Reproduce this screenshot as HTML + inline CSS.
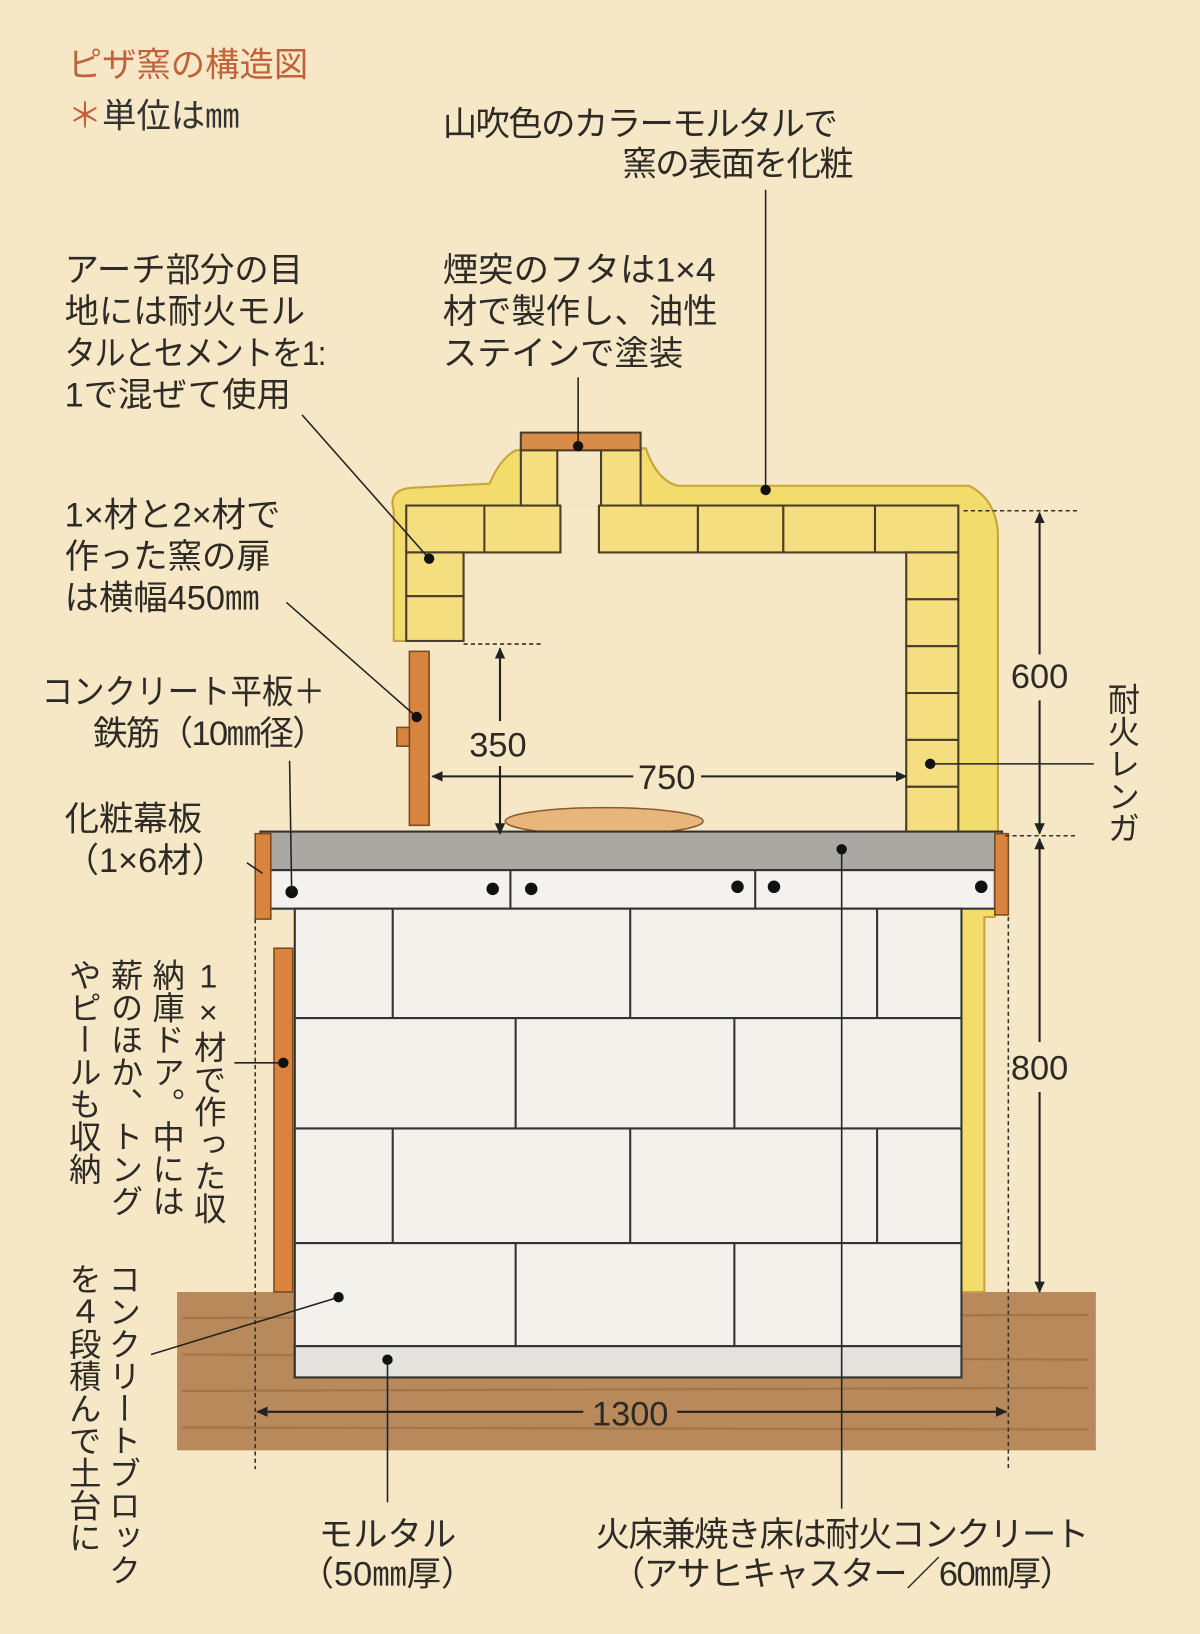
<!DOCTYPE html>
<html><head><meta charset="utf-8"><style>
html,body{margin:0;padding:0;background:#f6e7c6;}
svg{display:block}
text{font-family:"Liberation Sans","Noto Sans CJK JP",sans-serif;fill:#2e2a26;font-size:33px}
.v{writing-mode:vertical-rl;text-orientation:upright;font-size:31px}
.c{letter-spacing:-1.5px}
</style></head><body>
<svg width="1200" height="1634" viewBox="0 0 1152 1568" xmlns="http://www.w3.org/2000/svg">
<defs>
<marker id="ar" markerWidth="12" markerHeight="12" refX="10" refY="5" orient="auto-start-reverse" markerUnits="userSpaceOnUse"><path d="M0,0 L11,5 L0,10 z" fill="#222"/></marker>
</defs>
<rect width="1152" height="1568" fill="#f6e7c6"/>
<!-- ground -->
<rect x="170" y="1240" width="882" height="152" fill="#b8895a"/>
<g stroke="#8e6234" stroke-width="2" opacity="0.5">
<line x1="175" y1="1265" x2="1045" y2="1262"/><line x1="175" y1="1300" x2="1045" y2="1305"/><line x1="175" y1="1335" x2="1045" y2="1332"/><line x1="175" y1="1370" x2="1045" y2="1372"/>
</g>
<!-- mortar yellow outer -->
<path d="M378,490 Q372,470 395,468 L470,464 Q480,440 495,432 L620,430 Q630,460 650,466 L930,466 Q955,478 958,510 L958,800 L955,880 L945,880 L945,1240 L922,1240 L922,872 L870,800 L870,530 L575,530 L575,485 L538,485 L538,530 L445,530 L445,615 L378,615 Z" fill="#f2dc6c" stroke="#c9a43a" stroke-width="2"/>
<rect x="536" y="432" width="40" height="54" fill="#f6e7c6"/>
<!-- bricks -->
<g fill="#f5de80" stroke="#4a3d2a" stroke-width="2">
<rect x="390" y="485" width="148" height="45"/>
<line x1="465" y1="485" x2="465" y2="530"/>
<rect x="390" y="530" width="55" height="42"/><rect x="390" y="572" width="55" height="43"/>
<rect x="500" y="430" width="35" height="55"/><rect x="577" y="430" width="38" height="55"/>
<rect x="500" y="415" width="115" height="17" fill="#d98b48"/>
<rect x="575" y="485" width="95" height="45"/><rect x="670" y="485" width="82" height="45"/><rect x="752" y="485" width="88" height="45"/><rect x="840" y="485" width="80" height="45"/>
<rect x="870" y="530" width="50" height="45"/><rect x="870" y="575" width="50" height="45"/><rect x="870" y="620" width="50" height="45"/><rect x="870" y="665" width="50" height="45"/><rect x="870" y="710" width="50" height="45"/><rect x="870" y="755" width="50" height="45"/>
</g>
<!-- hearth -->
<ellipse cx="580" cy="788" rx="95" ry="13" fill="#e8b57a" stroke="#8a5a30" stroke-width="1.5"/>
<!-- slab -->
<rect x="250" y="798" width="712" height="37" fill="#a9a8a2" stroke="#333" stroke-width="2"/>
<rect x="258" y="835" width="697" height="37" fill="#f3f2ee" stroke="#333" stroke-width="2"/>
<line x1="490" y1="835" x2="490" y2="872" stroke="#333" stroke-width="2"/><line x1="725" y1="835" x2="725" y2="872" stroke="#333" stroke-width="2"/>
<g fill="#111"><circle cx="280" cy="856" r="6"/><circle cx="473" cy="853" r="6"/><circle cx="510" cy="853" r="6"/><circle cx="708" cy="851" r="6"/><circle cx="743" cy="851" r="6"/><circle cx="942" cy="851" r="6"/></g>
<rect x="245" y="800" width="15" height="82" fill="#d8843e" stroke="#7a4a20" stroke-width="1.5"/>
<rect x="955" y="800" width="13" height="78" fill="#d8843e" stroke="#7a4a20" stroke-width="1.5"/>
<!-- blocks -->
<rect x="283" y="872" width="640" height="450" fill="#f2f1ec" stroke="#333" stroke-width="2"/>
<g stroke="#333" stroke-width="2" fill="none">
<line x1="283" y1="977" x2="923" y2="977"/><line x1="283" y1="1083" x2="923" y2="1083"/><line x1="283" y1="1193" x2="923" y2="1193"/><line x1="283" y1="1292" x2="923" y2="1292"/>
<line x1="377" y1="872" x2="377" y2="977"/><line x1="605" y1="872" x2="605" y2="977"/><line x1="842" y1="872" x2="842" y2="977"/>
<line x1="495" y1="977" x2="495" y2="1083"/><line x1="705" y1="977" x2="705" y2="1083"/>
<line x1="377" y1="1083" x2="377" y2="1193"/><line x1="605" y1="1083" x2="605" y2="1193"/><line x1="842" y1="1083" x2="842" y2="1193"/>
<line x1="495" y1="1193" x2="495" y2="1292"/><line x1="705" y1="1193" x2="705" y2="1292"/>
</g>
<rect x="283" y="1292" width="640" height="30" fill="#e4e3de" stroke="#333" stroke-width="2"/>
<!-- doors -->
<rect x="393" y="625" width="19" height="167" fill="#d8843e" stroke="#7a4a20" stroke-width="1.5"/>
<rect x="381" y="698" width="12" height="18" fill="#d8843e" stroke="#7a4a20" stroke-width="1.5"/>
<rect x="263" y="910" width="18" height="330" fill="#d8843e" stroke="#7a4a20" stroke-width="1.5"/>
<!-- dims -->
<g stroke="#333" stroke-width="1.5" stroke-dasharray="4,3" fill="none">
<line x1="925" y1="490" x2="1035" y2="490"/><line x1="965" y1="802" x2="1035" y2="802"/><line x1="445" y1="618" x2="520" y2="618"/>
<line x1="245" y1="882" x2="245" y2="1410"/><line x1="968" y1="880" x2="968" y2="1410"/>
</g>
<g stroke="#222" stroke-width="2" fill="none">
<line x1="998" y1="492" x2="998" y2="628" marker-start="url(#ar)"/><line x1="998" y1="672" x2="998" y2="800" marker-end="url(#ar)"/>
<line x1="998" y1="805" x2="998" y2="1000" marker-start="url(#ar)"/><line x1="998" y1="1048" x2="998" y2="1240" marker-end="url(#ar)"/>
<line x1="480" y1="622" x2="480" y2="692" marker-start="url(#ar)"/><line x1="480" y1="735" x2="480" y2="800" marker-end="url(#ar)"/>
<line x1="415" y1="745" x2="608" y2="745" marker-start="url(#ar)"/><line x1="673" y1="745" x2="870" y2="745" marker-end="url(#ar)"/>
<line x1="247" y1="1355" x2="560" y2="1355" marker-start="url(#ar)"/><line x1="650" y1="1355" x2="966" y2="1355" marker-end="url(#ar)"/>
</g>
<!-- leaders -->
<g stroke="#222" stroke-width="1.5">
<line x1="290" y1="398" x2="412" y2="536"/><line x1="275" y1="578" x2="400" y2="688"/><line x1="278" y1="730" x2="280" y2="855"/><line x1="237" y1="828" x2="252" y2="838"/><line x1="225" y1="1020" x2="272" y2="1020"/><line x1="145" y1="1300" x2="325" y2="1245"/><line x1="372" y1="1305" x2="372" y2="1442"/><line x1="808" y1="815" x2="808" y2="1448"/><line x1="555" y1="362" x2="555" y2="428"/><line x1="735" y1="182" x2="735" y2="470"/><line x1="893" y1="733" x2="1050" y2="733"/>
</g>
<g fill="#111"><circle cx="412" cy="536" r="5"/><circle cx="400" cy="688" r="5"/><circle cx="272" cy="1020" r="5"/><circle cx="325" cy="1245" r="5"/><circle cx="372" cy="1305" r="5"/><circle cx="808" cy="815" r="5"/><circle cx="555" cy="428" r="5"/><circle cx="735" cy="470" r="5"/><circle cx="893" cy="733" r="5"/></g>
<!-- texts -->
<text x="65" y="73" style="fill:#c0623a">ピザ窯の構造図</text>
<text x="65" y="122" style="fill:#333"><tspan style="fill:#c0623a">＊</tspan>単位は㎜</text>
<text x="425" y="130" class="c">山吹色のカラーモルタルで</text>
<text x="818" y="168" text-anchor="end" class="c">窯の表面を化粧</text>
<text x="62" y="270">アーチ部分の目</text><text x="62" y="310">地には耐火モル</text><text x="62" y="350" class="c" textLength="250" lengthAdjust="spacingAndGlyphs">タルとセメントを1:</text><text x="62" y="390">1で混ぜて使用</text>
<text x="425" y="270" textLength="262" lengthAdjust="spacingAndGlyphs">煙突のフタは1×4</text><text x="425" y="310">材で製作し、油性</text><text x="425" y="350">ステインで塗装</text>
<text x="62" y="505">1×材と2×材で</text><text x="62" y="545">作った窯の扉</text><text x="62" y="585">は横幅450㎜</text>
<text x="40" y="675" textLength="272" lengthAdjust="spacingAndGlyphs">コンクリート平板＋</text><text x="312" y="715" text-anchor="end" class="c">鉄筋（10㎜径）</text>
<text x="62" y="797">化粧幕板</text><text x="62" y="837">（1×6材）</text>
<text x="998" y="660" text-anchor="middle">600</text>
<text x="478" y="726" text-anchor="middle">350</text>
<text x="640" y="757" text-anchor="middle">750</text>
<text x="998" y="1036" text-anchor="middle">800</text>
<text x="605" y="1368" text-anchor="middle">1300</text>
<text class="v" x="1077" y="655">耐火レンガ</text>
<text class="v" x="200" y="920">1×材で作った収</text>
<text class="v" x="160" y="920">納庫ドア。中には</text>
<text class="v" x="120" y="920">薪のほか、トング</text>
<text class="v" x="80" y="920">やピールも収納</text>
<text class="v" x="118" y="1212">コンクリートブロック</text>
<text class="v" x="80" y="1212">を４段積んで土台に</text>
<text x="372" y="1484" text-anchor="middle">モルタル</text>
<text x="372" y="1522" text-anchor="middle">（50㎜厚）</text>
<text x="808" y="1484" text-anchor="middle" class="c">火床兼焼き床は耐火コンクリート</text>
<text x="808" y="1522" text-anchor="middle" class="c">（アサヒキャスター／60㎜厚）</text>
</svg>
</body></html>
